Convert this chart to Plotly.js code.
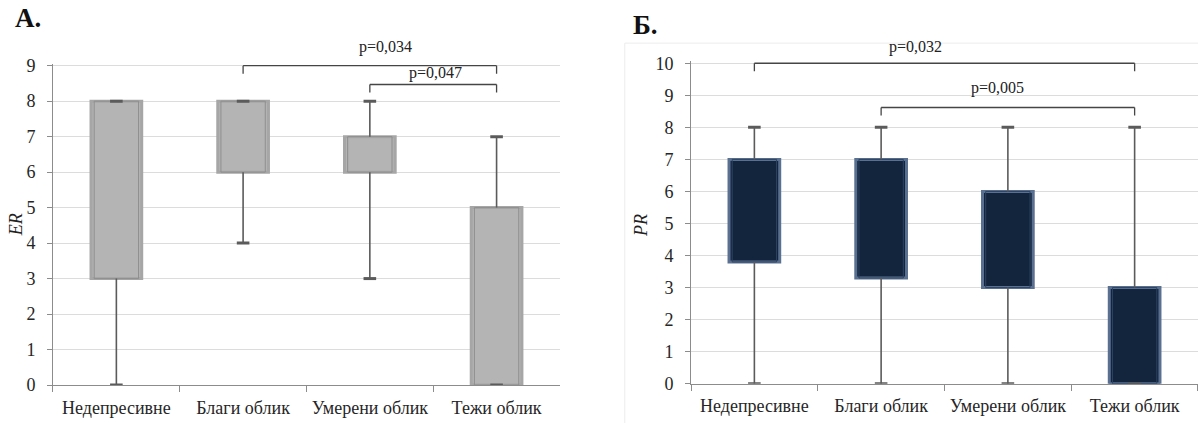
<!DOCTYPE html>
<html><head><meta charset="utf-8">
<script src="https://cdn.plot.ly/plotly-3.0.1.min.js"></script>
<style>html,body{margin:0;padding:0;background:#fff}</style>
</head><body><div id="chart" style="width:1198px;height:423px"></div>
<script>
// ---- data ----
const categories = ['Недепресивне', 'Благи облик', 'Умерени облик', 'Тежи облик'];
const erMin = [0, 4, 3, 0];
const erQ1  = [3, 6, 6, 0];
const erQ3  = [8, 8, 7, 5];
const erMax = [8, 8, 8, 7];
const prMin = [0, 0, 0, 0];
const prQ1  = [3.8, 3.3, 3, 0];
const prQ3  = [7, 7, 6, 3];
const prMax = [8, 8, 8, 8];
const erYTicks = [0, 1, 2, 3, 4, 5, 6, 7, 8, 9];
const prYTicks = [0, 1, 2, 3, 4, 5, 6, 7, 8, 9, 10];
const erPairFrom = [1, 2];
const erPairTo   = [3, 3];
const erPairLevel = [9, 8.47];
const erPText = ['p=0,034', 'p=0,047'];
const prPairFrom = [0, 1];
const prPairTo   = [3, 3];
const prPairLevel = [10, 8.62];
const prPText = ['p=0,032', 'p=0,005'];

const FONT = '"Liberation Serif", "Times New Roman", serif';
const WH = '#5b5b5b';

function panel(ax, ay, q1, q3, mn, mx, fill, edge, inner) {
  const bar = {
    type: 'bar', x: categories, y: q3.map((v, i) => v - q1[i]), base: q1,
    xaxis: ax, yaxis: ay, width: 0.4, showlegend: false, hoverinfo: 'skip',
    marker: {color: fill, line: {color: edge, width: 3}}
  };
  const innerBar = {
    type: 'bar', x: categories, y: q3.map((v, i) => v - q1[i]), base: q1,
    xaxis: ax, yaxis: ay, width: 0.35, showlegend: false, hoverinfo: 'skip',
    marker: {color: 'rgba(0,0,0,0)', line: {color: inner, width: 1}}
  };
  const wx = [], wy = [];
  categories.forEach((c, i) => {
    wx.push(c, c, null, c, c, null);
    wy.push(q3[i], mx[i], null, q1[i], mn[i], null);
  });
  const whisk = {
    type: 'scatter', mode: 'lines', x: wx, y: wy, xaxis: ax, yaxis: ay,
    line: {color: WH, width: 1.6}, showlegend: false, hoverinfo: 'skip', connectgaps: false
  };
  const caps = {
    type: 'scatter', mode: 'markers', x: categories.concat(categories), y: mn.concat(mx),
    xaxis: ax, yaxis: ay, showlegend: false, hoverinfo: 'skip',
    marker: {symbol: 'line-ew', size: 9, line: {color: WH, width: 3}}
  };
  return [bar, innerBar, whisk, caps];
}

const traces = [].concat(
  panel('x', 'y', erQ1, erQ3, erMin, erMax, '#b4b4b4', '#a6a6a6', '#8e8e8e'),
  panel('x2', 'y2', prQ1, prQ3, prMin, prMax, '#13243d', '#5a7090', '#2e4463')
);

const shapes = [];
const annotations = [];
const labelShiftER = [16, 2];
const labelShiftPR = [-29, -10];
const labelLiftER = [8, 1];
const labelLiftPR = [5, 8];
function brackets(xr, yr, from, to, lvl, txt, shift, lift) {
  from.forEach((f, i) => {
    const line = {color: '#454545', width: 1.3};
    shapes.push({type: 'line', xref: xr, yref: yr, x0: f, x1: to[i], y0: lvl[i], y1: lvl[i], line});
    [f, to[i]].forEach(xx => shapes.push({
      type: 'line', xref: xr, yref: yr, ysizemode: 'pixel', yanchor: lvl[i],
      x0: xx, x1: xx, y0: 0, y1: -8, line}));
    annotations.push({
      xref: xr, yref: yr, x: (f + to[i]) / 2, y: lvl[i], text: txt[i], showarrow: false,
      xanchor: 'center', yanchor: 'bottom', xshift: shift[i], yshift: lift[i],
      font: {family: FONT, size: 16, color: '#222'}
    });
  });
}
brackets('x', 'y', erPairFrom, erPairTo, erPairLevel, erPText, labelShiftER, labelLiftER);
brackets('x2', 'y2', prPairFrom, prPairTo, prPairLevel, prPText, labelShiftPR, labelLiftPR);

// faint frame of right chart
shapes.push({type: 'rect', xref: 'paper', yref: 'paper', x0: 0.5215, x1: 1.01, y0: -0.05, y1: 0.898,
  line: {color: '#ececec', width: 1}, layer: 'below'});

annotations.push(
  {xref: 'paper', yref: 'paper', x: 0.0105, y: 0.958, xanchor: 'left', yanchor: 'middle', showarrow: false,
   text: '<b>А.</b>', font: {family: FONT, size: 27, color: '#111'}},
  {xref: 'paper', yref: 'paper', x: 0.527, y: 0.942, xanchor: 'left', yanchor: 'middle', showarrow: false,
   text: '<b>Б.</b>', font: {family: FONT, size: 27, color: '#111'}},
  {xref: 'paper', yref: 'paper', x: 0.0135, y: 0.468, xanchor: 'center', yanchor: 'middle', textangle: -90,
   showarrow: false, text: '<i>ER</i>', font: {family: FONT, size: 18, color: '#222'}},
  {xref: 'paper', yref: 'paper', x: 0.535, y: 0.468, xanchor: 'center', yanchor: 'middle', textangle: -90,
   showarrow: false, text: '<i>PR</i>', font: {family: FONT, size: 18, color: '#222'}}
);

const tickFont = {family: FONT, size: 18, color: '#262626'};
const xCommon = {
  type: 'category', categoryorder: 'array', categoryarray: categories,
  showgrid: false, showline: true, linecolor: '#8c8c8c', linewidth: 1,
  ticks: 'outside', tickson: 'boundaries', ticklen: 6, tickcolor: '#8c8c8c',
  tickfont: tickFont, ticklabelstandoff: 6, zeroline: false, fixedrange: true
};
const yCommon = {
  showgrid: true, gridcolor: '#dcdcdc', gridwidth: 1, showline: true, linecolor: '#8c8c8c',
  ticks: 'outside', ticklen: 5, tickcolor: '#8c8c8c', tickfont: tickFont, ticklabelstandoff: 8,
  zeroline: false, fixedrange: true
};

const layout = {
  width: 1198, height: 423, margin: {l: 0, r: 0, t: 0, b: 0},
  paper_bgcolor: '#fff', plot_bgcolor: 'rgba(0,0,0,0)', showlegend: false,
  barmode: 'overlay',
  font: {family: FONT},
  xaxis: Object.assign({}, xCommon, {domain: [0.04424, 0.4674], anchor: 'y'}),
  yaxis: Object.assign({}, yCommon, {domain: [0.0898, 0.8497], range: [0, 9.06],
    tickvals: erYTicks, anchor: 'x'}),
  xaxis2: Object.assign({}, xCommon, {domain: [0.5768, 1.0], anchor: 'y2'}),
  yaxis2: Object.assign({}, yCommon, {domain: [0.0929, 0.855], range: [0, 10.06],
    tickvals: prYTicks, anchor: 'x2'}),
  shapes, annotations
};
Plotly.newPlot('chart', traces, layout, {displayModeBar: false, staticPlot: true});
</script></body></html>
